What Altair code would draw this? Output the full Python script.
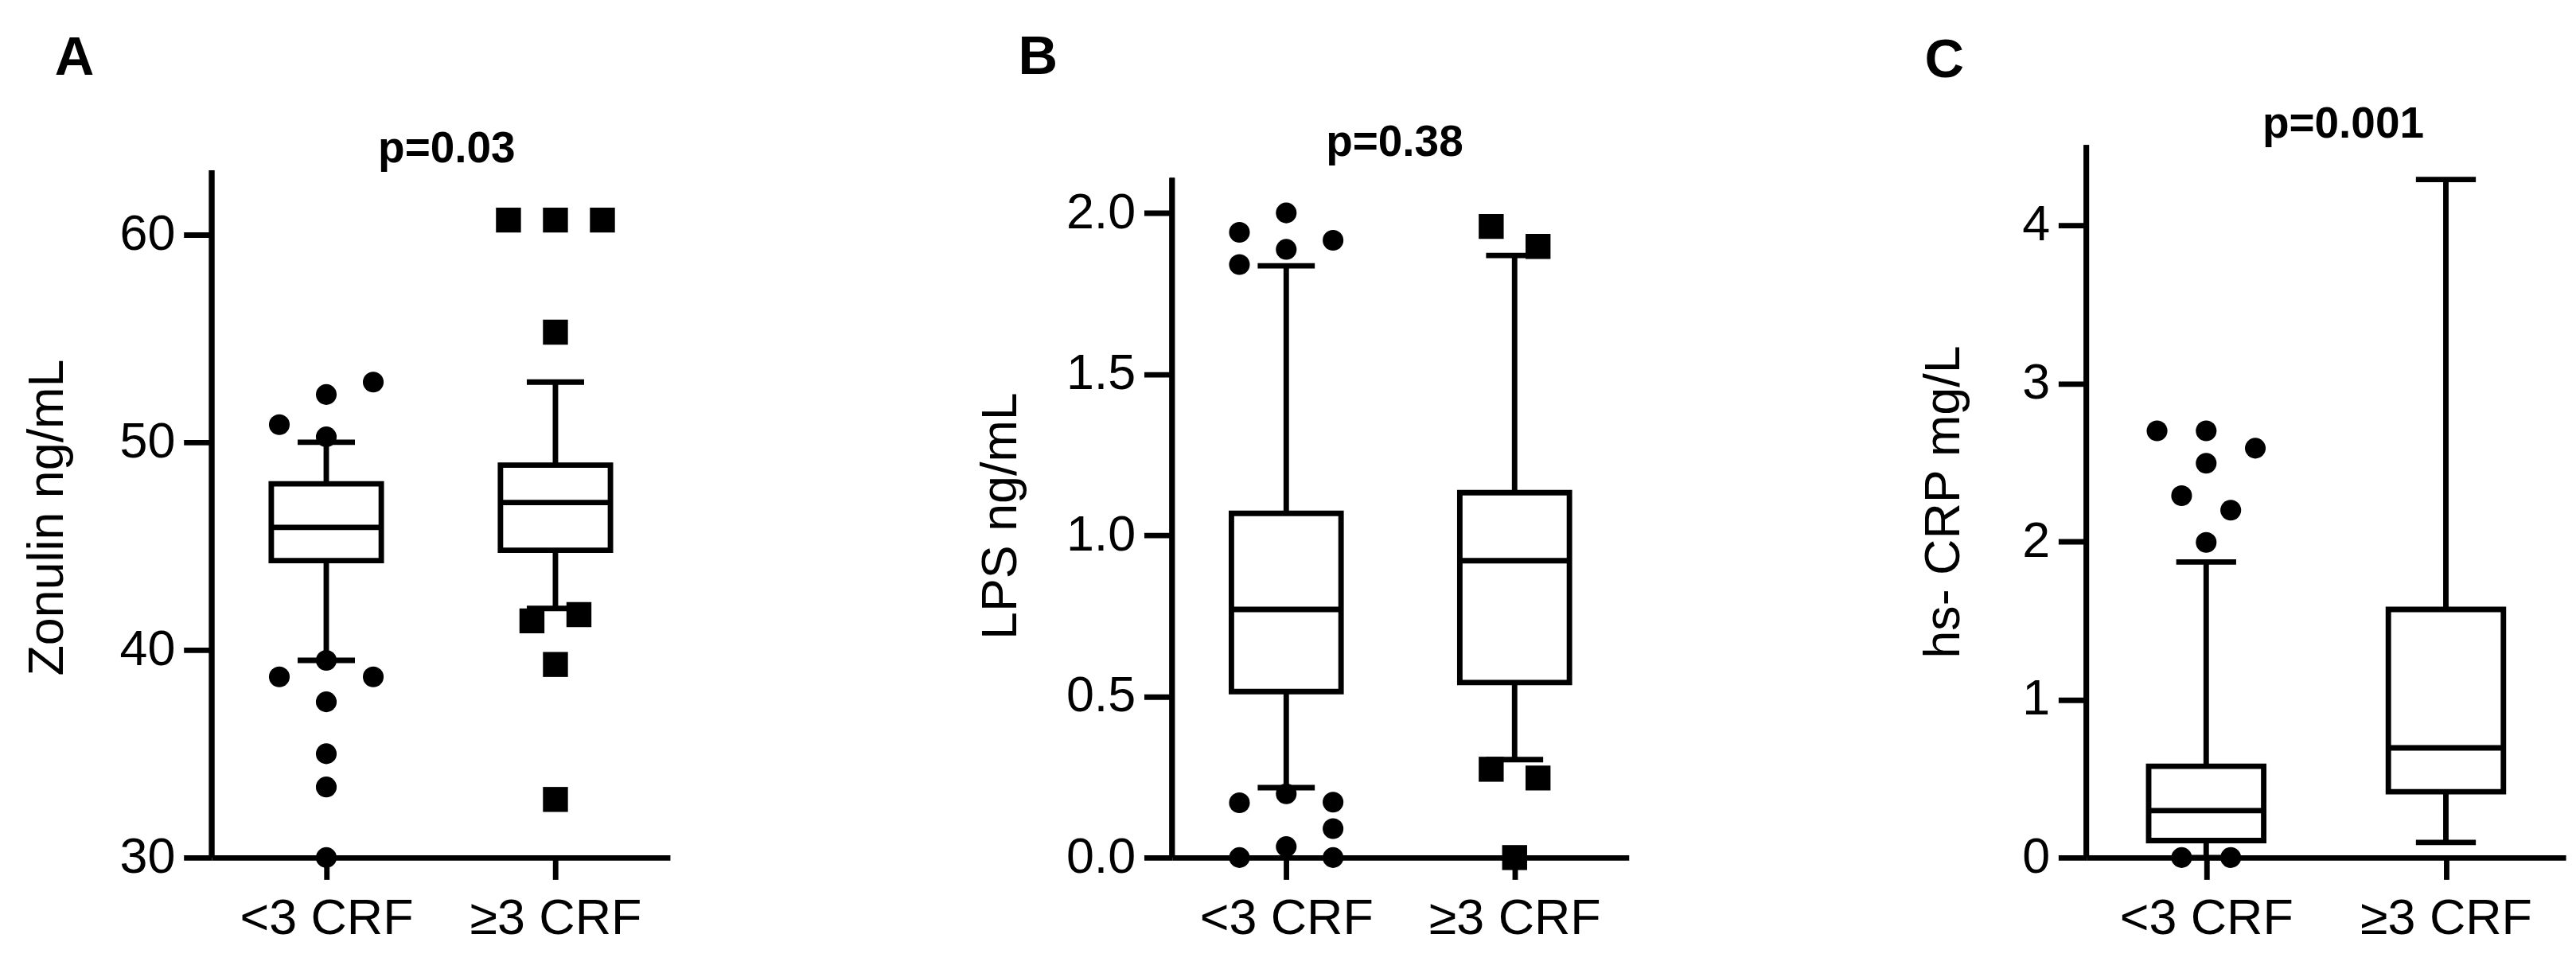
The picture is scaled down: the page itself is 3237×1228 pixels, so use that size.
import altair as alt
import pandas as pd

FONT = "Liberation Sans"

CATEGORIES = ["<3 CRF", "\u22653 CRF"]

# ---------- Panel A: Zonulin ----------
A_Q1 = [44.3, 44.8]
A_MED = [45.9, 47.1]
A_Q3 = [48.0, 48.9]
A_LO = [39.5, 42.0]
A_HI = [50.0, 52.9]
A_OUT_GROUP = [0, 0, 0, 0, 0, 0, 0, 0, 0, 0, 0,
               1, 1, 1, 1, 1, 1, 1, 1]
A_OUT_VALUE = [50.85, 52.3, 52.9, 50.26, 38.7, 39.5, 38.7, 37.5, 35.0, 33.4, 30.0,
               60.7, 60.7, 60.7, 55.3, 41.4, 41.7, 39.3, 32.8]
A_OUT_SLOT = [-1, 0, 1, 0, -1, 0, 1, 0, 0, 0, 0,
              -1, 0, 1, 0, -0.5, 0.5, 0, 0]

# ---------- Panel B: LPS ----------
B_Q1 = [0.515, 0.543]
B_MED = [0.770, 0.921]
B_Q3 = [1.068, 1.132]
B_LO = [0.217, 0.304]
B_HI = [1.836, 1.868]
B_OUT_GROUP = [0, 0, 0, 0, 0, 0, 0, 0, 0, 0, 0, 0,
               1, 1, 1, 1, 1]
B_OUT_VALUE = [1.94, 1.84, 0.17, 0.0, 2.0, 1.887, 0.198, 0.034, 1.915, 0.172, 0.09, 0.0,
               1.958, 1.896, 0.274, 0.247, 0.0]
B_OUT_SLOT = [-1, -1, -1, -1, 0, 0, 0, 0, 1, 1, 1, 1,
              -0.5, 0.5, -0.5, 0.5, 0]

# ---------- Panel C: hs-CRP ----------
C_Q1 = [0.108, 0.4165]
C_MED = [0.297, 0.694]
C_Q3 = [0.578, 1.57]
C_LO = [0.0, 0.096]
C_HI = [1.87, 4.29]
C_OUT_GROUP = [0, 0, 0, 0, 0, 0, 0, 0, 0]
C_OUT_VALUE = [2.70, 2.29, 0.0, 2.70, 2.495, 1.994, 2.59, 2.198, 0.0]
C_OUT_SLOT = [-1, -0.5, -0.5, 0, 0, 0, 1, 0.5, 0.5]

PANEL_LETTERS = ["A", "B", "C"]
P_TEXTS = ["p=0.03", "p=0.38", "p=0.001"]
Y_TITLES = ["Zonulin ng/mL", "LPS ng/mL", "hs- CRP mg/L"]

PLOT_H = 913
LW = 7
LABEL_EXPR = "datum.value == 0 ? '%s' : '%s'" % (CATEGORIES[0], CATEGORIES[1])


def panel(q1, med, q3, lo, hi, og, ov, osl,
          ymin, y_axis_top, y_dom_max, yvals, yfmt, ytitle,
          title_x, title_y, width, letter, letter_x, letter_y,
          ptxt, p_x, p_y):
    box = pd.DataFrame({"g": [0, 1], "q1": q1, "med": med, "q3": q3,
                        "lo": lo, "hi": hi})
    out = pd.DataFrame({"g": og, "v": ov, "s": osl})

    xscale = alt.Scale(domain=[-0.5, 1.5], nice=False, zero=False)
    yscale = alt.Scale(domain=[ymin, y_dom_max], nice=False, zero=False)
    xaxis = alt.Axis(values=[0, 1], labelExpr=LABEL_EXPR, title=None,
                     domainWidth=LW, domainColor="black", tickSize=28,
                     tickWidth=LW, tickColor="black", labelFontSize=64,
                     labelFont=FONT, labelColor="black", labelPadding=18,
                     grid=False, labelFlush=False, labelLimit=0,
                     labelOverlap=False)
    yaxis = alt.Axis(values=yvals, format=yfmt, domain=False, tickSize=36,
                     tickWidth=LW, tickColor="black", labelFontSize=64,
                     labelFont=FONT, labelColor="black", labelPadding=11,
                     grid=False, title=ytitle, titleX=title_x, titleY=title_y,
                     titleFontSize=64, titleFont=FONT, titleFontWeight="normal",
                     titleBaseline="alphabetic", titleColor="black",
                     titleAngle=270, labelFlush=False, titleLimit=0)

    def X(f):
        return alt.X(f, type="quantitative", scale=xscale, axis=xaxis)

    def Y(f):
        return alt.Y(f, type="quantitative", scale=yscale, axis=yaxis)

    base = alt.Chart(box).transform_calculate(
        xl="datum.g - 0.24", xr="datum.g + 0.24",
        cl="datum.g - 0.125", cr="datum.g + 0.125")

    whisk_hi = base.mark_rule(color="black", strokeWidth=LW).encode(
        x=X("g"), y=Y("q3"), y2="hi:Q")
    whisk_lo = base.mark_rule(color="black", strokeWidth=LW).encode(
        x=X("g"), y=Y("lo"), y2="q1:Q")
    rect = base.mark_rect(fill="white", stroke="black", strokeWidth=LW).encode(
        x=X("xl"), x2="xr:Q", y=Y("q1"), y2="q3:Q")
    median = base.mark_rule(color="black", strokeWidth=LW).encode(
        x=X("xl"), x2="xr:Q", y=Y("med"))
    cap_hi = base.mark_rule(color="black", strokeWidth=LW).encode(
        x=X("cl"), x2="cr:Q", y=Y("hi"))
    cap_lo = base.mark_rule(color="black", strokeWidth=LW).encode(
        x=X("cl"), x2="cr:Q", y=Y("lo"))

    pts_base = alt.Chart(out).transform_calculate(
        px="datum.g + datum.s * 0.205")
    circles = pts_base.transform_filter("datum.g == 0").mark_point(
        filled=True, shape="circle", size=707, color="black", opacity=1,
        strokeWidth=0).encode(x=X("px"), y=Y("v"))
    squares = pts_base.transform_filter("datum.g == 1").mark_point(
        filled=True, shape="square", size=1024, color="black", opacity=1,
        strokeWidth=0).encode(x=X("px"), y=Y("v"))

    yline = alt.Chart(box).mark_rule(color="black", strokeWidth=LW).encode(
        x=alt.value(0), y=alt.datum(ymin, scale=yscale, axis=yaxis),
        y2=alt.datum(y_axis_top))

    letter_layer = alt.Chart(pd.DataFrame({"t": [letter]})).mark_text(
        font=FONT, fontSize=70, fontWeight="bold", align="left",
        baseline="alphabetic", color="black").encode(
        text="t:N", x=alt.value(letter_x), y=alt.value(letter_y))

    p_layer = alt.Chart(pd.DataFrame({"t": [ptxt]})).mark_text(
        font=FONT, fontSize=56, fontWeight="bold", align="center",
        baseline="alphabetic", color="black").encode(
        text="t:N", x=alt.value(p_x), y=alt.value(p_y))

    layers = [whisk_hi, whisk_lo, rect, median, cap_hi, cap_lo, circles]
    if 1 in og:
        layers.append(squares)
    layers += [yline, letter_layer, p_layer]
    return alt.layer(*layers).properties(width=width, height=PLOT_H)


pA = panel(A_Q1, A_MED, A_Q3, A_LO, A_HI, A_OUT_GROUP, A_OUT_VALUE, A_OUT_SLOT,
           30, 63.1, 64.32, [30, 40, 50, 60], "d", Y_TITLES[0],
           -191, 477, 587, PANEL_LETTERS[0], -201, -90, P_TEXTS[0], 301, 22)
pB = panel(B_Q1, B_MED, B_Q3, B_LO, B_HI, B_OUT_GROUP, B_OUT_VALUE, B_OUT_SLOT,
           0, 2.109, 2.211, [0, 0.5, 1.0, 1.5, 2.0], ".1f",
           Y_TITLES[1], -200, 475, 585, PANEL_LETTERS[1], -197, -91,
           P_TEXTS[1], 285, 14)
pC = panel(C_Q1, C_MED, C_Q3, C_LO, C_HI, C_OUT_GROUP, C_OUT_VALUE, C_OUT_SLOT,
           0, 4.509, 4.509, [0, 1, 2, 3, 4], "d", Y_TITLES[2],
           -163, 457, 614, PANEL_LETTERS[2], -207, -87, P_TEXTS[2], 329, -9)

inner = alt.hconcat(pA, pB, spacing=392)
chart = alt.hconcat(inner, pC, spacing=372).properties(
    padding={"left": 21, "top": 19, "right": 5, "bottom": 5},
    background="white").configure_view(stroke=None)

chart.save("out.html", embed_options={"renderer": "svg", "actions": False})
